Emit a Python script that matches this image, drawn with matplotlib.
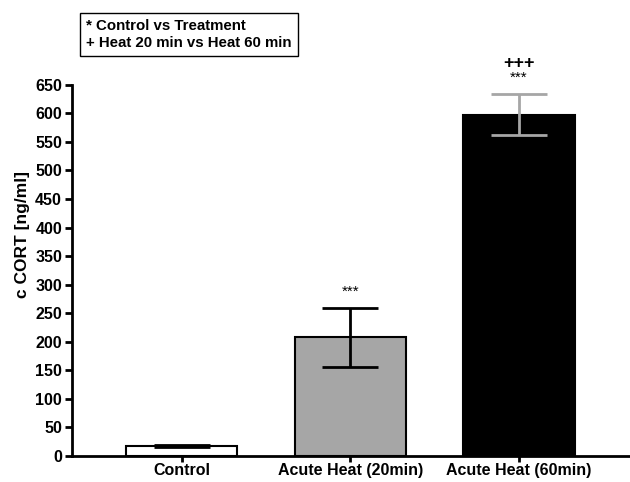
import matplotlib.pyplot as plt

categories = ["Control", "Acute Heat (20min)", "Acute Heat (60min)"]
means = [17, 208, 598]
errors = [1.5, 52, 36]
bar_colors = ["white", "#a6a6a6", "black"]
err_colors = ["black", "black", "#a6a6a6"]
stars = ["", "***", "***"]
plus = ["", "", "+++"]
yticks = list(range(0, 651, 50))

plt.rcParams["font.family"] = ["Liberation Sans", "DejaVu Sans"]
plt.rcParams["font.weight"] = "bold"

fig = plt.figure(figsize=(6.3, 4.82), dpi=100)
ax = fig.add_axes([0.114, 0.054, 0.884, 0.770])

x = range(len(categories))
ax.bar(x, means, width=0.66, color=bar_colors, edgecolor="black", linewidth=1.5, zorder=2)
for i in x:
    ax.errorbar(i, means[i], yerr=errors[i], color=err_colors[i], capsize=20,
                elinewidth=2, capthick=2, zorder=3)
    top = means[i] + errors[i]
    if stars[i]:
        ax.text(i, top + 28, stars[i], ha="center", va="center", fontsize=11, fontweight="normal")
    if plus[i]:
        ax.text(i, top + 53, plus[i], ha="center", va="center", fontsize=13, fontweight="bold")

ax.set_xlim(-0.65, 2.65)
ax.set_ylim(0, 650)
ax.set_yticks(yticks)
ax.set_xticks(list(x))
ax.set_xticklabels(categories, fontsize=11.5, fontweight="bold")
ax.tick_params(axis="y", labelsize=11.5, width=2, length=5, pad=2)
ax.tick_params(axis="x", width=2, length=4, pad=1)
for lab in ax.get_yticklabels():
    lab.set_fontweight("bold")
ax.set_ylabel("c CORT [ng/ml]", fontsize=12.5, fontweight="bold")
ax.yaxis.set_label_coords(-0.075, 0.597)

ax.spines["top"].set_visible(False)
ax.spines["right"].set_visible(False)
ax.spines["left"].set_linewidth(2)
ax.spines["bottom"].set_linewidth(2)

fig.text(0.137, 0.928, "* Control vs Treatment\n+ Heat 20 min vs Heat 60 min",
         fontsize=10.8, fontweight="bold", va="center", ha="left", linespacing=1.3,
         bbox=dict(boxstyle="square,pad=0.4", facecolor="white", edgecolor="black", linewidth=1))

fig.savefig("out.png", dpi=100)
